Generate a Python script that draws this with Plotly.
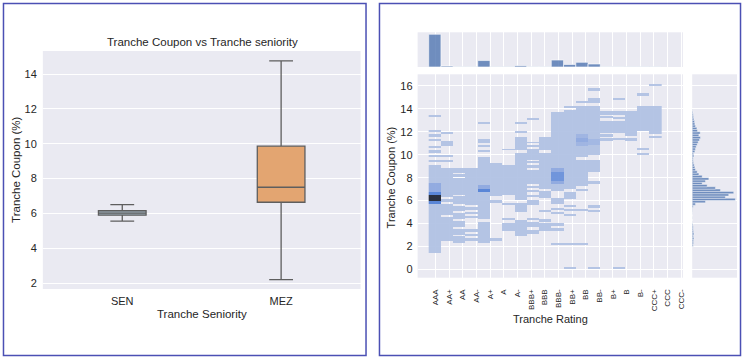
import numpy as np
import plotly.graph_objects as go

# ---------------- data ----------------
seniority = ["SEN", "MEZ"]
box_lower = [5.56, 2.2]
box_q1 = [5.9, 6.64]
box_median = [6.02, 7.5]
box_q3 = [6.15, 9.86]
box_upper = [6.5, 14.75]

ratings = ["AAA", "AA+", "AA", "AA-", "A+", "A", "A-", "BBB+", "BBB", "BBB-",
           "BB+", "BB", "BB-", "B+", "B", "B-", "CCC+", "CCC", "CCC-"]

# 2D histogram: for each x-bin, coupon ranges [low, high, density level]
col_00 = [[1.5, 9.1, 1], [13.3, 13.5, 1], [12.0, 12.2, 1], [11.6, 11.8, 1], [11.2, 11.4, 1],
          [10.6, 10.8, 1], [10.2, 10.4, 1], [9.8, 10.0, 1], [9.4, 9.6, 1],
          [6.7, 7.6, 2], [5.7, 6.0, 3], [6.55, 6.75, 3], [6.0, 6.55, 5]]
col_01 = [[11.8, 12.0, 1], [10.8, 11.2, 1], [9.8, 10.0, 1], [9.4, 9.6, 1],
          [6.3, 8.9, 1], [5.9, 6.2, 1], [4.8, 5.75, 1], [2.5, 4.6, 1]]
col_02 = [[8.45, 8.9, 1], [8.1, 8.3, 1], [6.55, 7.95, 1], [5.7, 6.4, 1], [5.1, 5.55, 1],
          [4.4, 4.95, 1], [3.7, 4.25, 1], [3.0, 3.55, 1], [2.3, 2.9, 1]]
col_03 = [[5.6, 8.9, 1], [5.2, 5.45, 1], [4.85, 5.05, 1], [4.55, 4.72, 1],
          [3.3, 3.55, 1], [2.9, 3.15, 1], [2.5, 2.8, 1]]
col_04 = [[12.7, 12.9, 1], [11.0, 11.4, 1], [10.7, 10.9, 1], [10.25, 10.45, 1],
          [4.4, 9.8, 1], [2.3, 4.2, 1], [7.05, 7.4, 2], [6.75, 7.05, 3]]
col_05 = [[6.45, 9.3, 1], [5.85, 6.05, 1], [2.55, 2.75, 1]]
col_06 = [[10.4, 10.55, 1], [6.5, 9.1, 1], [5.65, 5.85, 1], [4.35, 4.55, 1], [3.35, 4.1, 1]]
col_07 = [[12.7, 12.9, 1], [11.95, 12.1, 1], [10.4, 11.6, 1], [6.1, 10.2, 1],
          [5.05, 5.8, 1], [2.95, 4.3, 1]]
col_08 = [[13.05, 13.25, 1], [11.0, 11.15, 1], [10.65, 10.85, 1], [9.6, 10.5, 1],
          [9.3, 9.45, 1], [8.9, 9.1, 1], [7.5, 8.7, 1], [7.15, 7.3, 1], [6.75, 6.95, 1],
          [6.35, 6.55, 1], [5.6, 6.1, 1], [4.35, 4.55, 1], [3.7, 4.15, 1], [3.15, 3.45, 1]]
col_09 = [[10.4, 11.6, 1], [7.0, 10.2, 1], [6.25, 6.9, 1], [5.05, 5.2, 1],
          [4.2, 4.4, 1], [3.4, 4.05, 1]]
col_10 = [[6.9, 13.7, 1], [7.5, 8.9, 2], [7.7, 8.5, 2.6], [5.7, 6.25, 1], [5.2, 5.4, 1],
          [4.85, 5.0, 1], [3.8, 4.1, 1], [3.4, 3.6, 1], [2.15, 2.35, 1]]
col_11 = [[14.1, 14.3, 1], [7.0, 13.95, 1], [6.15, 6.8, 1], [5.45, 5.65, 1],
          [5.1, 5.3, 1], [4.65, 4.85, 1], [2.15, 2.35, 1], [0.05, 0.25, 1]]
col_12 = [[14.5, 14.7, 1], [9.8, 14.3, 1], [10.8, 11.85, 1.6], [11.1, 11.5, 2],
          [7.3, 9.6, 1], [6.9, 7.05, 1], [5.1, 5.3, 1], [2.15, 2.35, 1]]
col_13 = [[15.6, 15.8, 1], [14.55, 14.95, 1], [10.0, 14.3, 1], [10.9, 11.35, 1.5],
          [8.5, 9.55, 1], [7.5, 7.7, 1], [5.4, 5.6, 1], [5.05, 5.25, 1], [0.05, 0.25, 1]]
col_14 = [[13.5, 13.85, 1], [13.25, 13.4, 1], [11.95, 12.95, 1], [11.6, 11.8, 1], [11.2, 11.45, 1]]
col_15 = [[14.75, 14.95, 1], [13.5, 13.85, 1], [13.1, 13.3, 1], [11.95, 12.95, 1],
          [11.3, 11.5, 1], [0.05, 0.25, 1]]
col_16 = [[11.65, 13.85, 1], [11.2, 11.5, 1]]
col_17 = [[15.15, 15.35, 1], [12.1, 14.3, 1], [10.4, 10.6, 1], [10.0, 10.2, 1]]
col_18 = [[16.0, 16.2, 1], [11.85, 14.3, 1], [11.45, 11.65, 1]]
heat_columns = [col_00, col_01, col_02, col_03, col_04, col_05, col_06, col_07, col_08,
                col_09, col_10, col_11, col_12, col_13, col_14, col_15, col_16, col_17, col_18]

# top marginal histogram (count per x-bin)
rating_bin_counts = [33, 1.0, 0.3, 0.3, 6.5, 0.2, 0.2, 1.3, 0.3, 0.3,
                     7.0, 2.5, 4.7, 3.0, 0.3, 0.3, 0.2, 0.2, 0.2]

# right marginal histogram (count per 0.2% coupon bin, starting at 2.0%)
coupon_hist_start = 2.0
coupon_hist_counts = [3, 4, 4, 5, 4, 5, 4, 3, 3, 2,
                      0.5, 0, 0.5, 0, 0.5, 1, 1, 3, 10, 40,
                      130, 100, 110, 125, 85, 70, 45, 30, 40, 50,
                      30, 20, 15, 10, 8, 6, 4, 3, 3, 5,
                      4, 8, 10, 12, 15, 18, 22, 25, 20, 24,
                      16, 14, 10, 8, 7, 5, 4, 3, 2, 1]

# ---------------- figure ----------------
W, H = 748, 360
def px(x):
    return x / W
def py(y):
    return 1 - y / H

BG = "#eaeaf2"
TXT = "#262626"
FONT = "Liberation Sans, Arial, sans-serif"

fig = go.Figure()

box_fill = ["#a2b5c2", "#e3a571"]
for i, s in enumerate(seniority):
    fig.add_trace(go.Box(
        x=[s], q1=[box_q1[i]], median=[box_median[i]], q3=[box_q3[i]],
        lowerfence=[box_lower[i]], upperfence=[box_upper[i]],
        fillcolor=box_fill[i], line=dict(color="#5e5e5e", width=1.3),
        width=0.3, whiskerwidth=0.5, boxpoints=False, showlegend=False,
        hoverinfo="skip", xaxis="x", yaxis="y"))

# heatmap grid
y_res = 0.05
y_edges = np.round(np.arange(-0.3, 16.5 + y_res / 2, y_res), 4)
ymid = (y_edges[:-1] + y_edges[1:]) / 2
x_edges = np.linspace(-0.49, 16.56, len(heat_columns) + 1)
x_mid = (x_edges[:-1] + x_edges[1:]) / 2
z = np.full((len(ymid), len(heat_columns)), np.nan)
for j, col in enumerate(heat_columns):
    for lo, hi, lev in col:
        m = (ymid >= lo) & (ymid < hi)
        z[m, j] = np.fmax(z[m, j], lev)

fig.add_trace(go.Heatmap(
    x=x_edges, y=y_edges, z=z, zmin=1, zmax=5, zsmooth=False, showscale=False,
    opacity=0.93, hoverinfo="skip",
    colorscale=[[0, "#b0c1e4"], [0.25, "#8ba6df"], [0.5, "#4f7ed6"], [0.75, "#2b4a85"], [1, "#1b2232"]],
    xaxis="x2", yaxis="y2"))

bar_color = "rgba(76,114,176,0.78)"
fig.add_trace(go.Bar(
    x=x_mid, y=rating_bin_counts, width=(x_edges[1] - x_edges[0]),
    marker=dict(color=bar_color, line=dict(color="white", width=0.6)),
    showlegend=False, hoverinfo="skip", xaxis="x3", yaxis="y3"))

cy = coupon_hist_start + 0.1 + 0.2 * np.arange(len(coupon_hist_counts))
fig.add_trace(go.Bar(
    y=cy, x=coupon_hist_counts, orientation="h", width=0.2,
    marker=dict(color=bar_color, line=dict(color="white", width=0.4)),
    showlegend=False, hoverinfo="skip", xaxis="x4", yaxis="y4"))

tick_font = dict(family=FONT, size=11, color=TXT)
grid = dict(showgrid=True, gridcolor="white", gridwidth=1, zeroline=False, showline=False, ticks="")

layout = dict(
    width=W, height=H, margin=dict(l=0, r=0, t=0, b=0),
    paper_bgcolor="white", plot_bgcolor=BG, boxmode="overlay", barmode="overlay",
    showlegend=False, font=dict(family=FONT, color=TXT),
    xaxis=dict(domain=[px(43), px(362)], type="category", range=[-0.5, 1.5],
               showgrid=False, zeroline=False, ticks="", tickfont=tick_font,
               ticklabelstandoff=4, anchor="y"),
    yaxis=dict(domain=[py(289), py(51)], range=[1.66, 15.32], tickvals=[2, 4, 6, 8, 10, 12, 14],
               tickfont=tick_font, ticklabelstandoff=5, anchor="x", **grid),
    xaxis2=dict(domain=[px(419.3), px(685.7)], range=[-1.3, 18.12], tickvals=list(range(len(ratings))),
                ticktext=ratings, tickangle=-90, tickfont=dict(family=FONT, size=8, color=TXT),
                anchor="y2", ticklabelstandoff=9, **grid),
    yaxis2=dict(domain=[py(277.7), py(74.3)], range=[-0.73, 17.02], tickvals=list(range(0, 17, 2)),
                tickfont=tick_font, ticklabelstandoff=4, anchor="x2", **grid),
    xaxis3=dict(domain=[px(419.3), px(685.7)], range=[-1.3, 18.12], tickvals=list(range(len(ratings))),
                showticklabels=False, anchor="y3", **grid),
    yaxis3=dict(domain=[py(67), py(32.3)], range=[0, 35.0], showticklabels=False, showgrid=False,
                zeroline=False, ticks="", anchor="x3"),
    xaxis4=dict(domain=[px(695), px(740)], range=[0, 135], showticklabels=False, showgrid=False,
                zeroline=False, ticks="", anchor="y4"),
    yaxis4=dict(domain=[py(277.7), py(74.3)], range=[-0.73, 17.02], tickvals=list(range(0, 17, 2)),
                showticklabels=False, anchor="x4", **grid),
)
fig.update_layout(**layout)

def ann(text, x, y, size=11, angle=0):
    fig.add_annotation(text=text, x=px(x), y=py(y), xref="paper", yref="paper",
                       xanchor="center", yanchor="middle", showarrow=False, textangle=angle,
                       font=dict(family=FONT, size=size, color=TXT))

ann("Tranche Coupon vs Tranche seniority", 203, 42, 11.5)
ann("Tranche Seniority", 203, 314, 11.5)
ann("Tranche Coupon (%)", 16, 170, 11.5, -90)
ann("Tranche Coupon (%)", 393, 177, 11, -90)
ann("Tranche Rating", 553, 319, 11)

border = "#4b50b4"
fig.add_shape(type="rect", xref="paper", yref="paper", x0=px(3.5), x1=px(367.5), y0=py(355.5), y1=py(3.5),
              line=dict(color=border, width=1.5))
fig.add_shape(type="rect", xref="paper", yref="paper", x0=px(381), x1=px(743.5), y0=py(355.5), y1=py(3.5),
              line=dict(color=border, width=1.5))

fig.write_html("out.html", config={"displayModeBar": False},
               post_script="document.body.style.margin='0';")
